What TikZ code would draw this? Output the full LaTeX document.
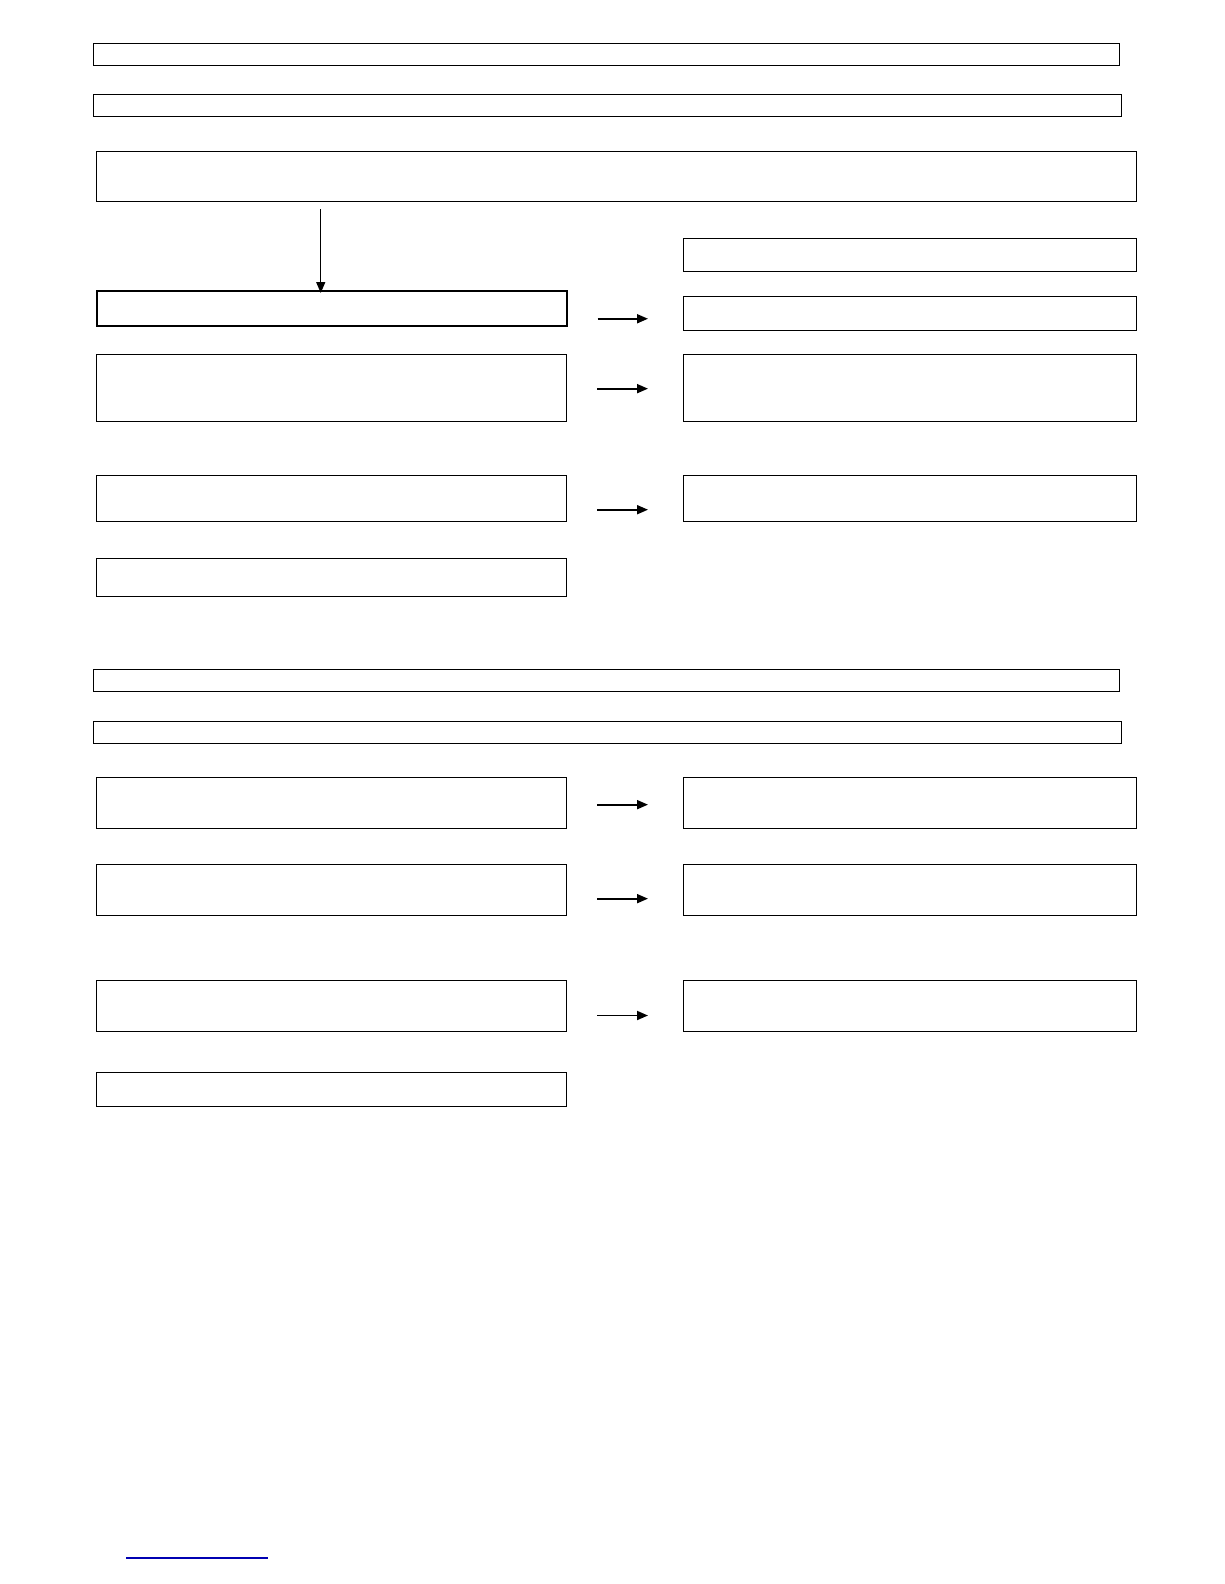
\documentclass[tikz,border=0pt]{standalone}
\usepackage{xcolor}
\usepackage{tikz}
\usetikzlibrary{shapes,arrows.meta,positioning,calc}

\begin{document}
\begin{tikzpicture}[
    x=1pt, y=-1pt,
    box/.style={rectangle, draw, anchor=north west, inner sep=0pt, line width=1pt},
    banner/.style={box, minimum height=22pt},
    leftbox/.style={box, minimum width=470pt},
    rightbox/.style={box, minimum width=453pt},
    tip/.style={-{Triangle[length=11pt,width=9pt]}},
    arrow/.style={tip, line width=1.8pt, shorten <=30pt, shorten >=35pt}
]
\useasboundingbox (0,0) rectangle (1224,1584);

% first part
\node[banner, minimum width=1026pt] (head1) at (93,43) {};
\node[banner, minimum width=1028pt] (head2) at (93,94) {};
\node[box, minimum width=1040pt, minimum height=50pt] (main) at (96,151) {};

\node[rightbox, minimum height=33pt] (r0) at (683,238) {};
\node[leftbox, minimum height=35pt, line width=1.5pt] (l1) at (96,290) {};
\node[rightbox, minimum height=34pt, line width=1.4pt] (r1) at (683,296) {};
\node[leftbox, minimum height=67pt, line width=1.3pt] (l2) at (96,354) {};
\node[rightbox, minimum height=67pt, line width=1.3pt] (r2) at (683,354) {};
\node[leftbox, minimum height=46pt, line width=1.4pt] (l3) at (96,475) {};
\node[rightbox, minimum height=46pt, line width=1.4pt] (r3) at (683,475) {};
\node[leftbox, minimum height=38pt, line width=1.3pt] (l4) at (96,558) {};

\draw[tip, line width=1.4pt]
    ($(main.south -| l1.north)+(-11,7)$) -- ($(l1.north)+(-11,3)$);

\draw[arrow] ($(l1.east)+(0,10.5)$) -- ($(l1.east -| r1.west)+(0,10.5)$);
\draw[arrow] ($(l2.east)+(0,0.5)$) -- ($(l2.east -| r2.west)+(0,0.5)$);
\draw[arrow] ($(l3.east)+(0,11)$) -- ($(l3.east -| r3.west)+(0,11)$);

% second part
\node[banner, minimum width=1026pt] (head3) at (93,669) {};
\node[banner, minimum width=1028pt] (head4) at (93,721) {};

\node[leftbox, minimum height=51pt, line width=1.3pt] (l5) at (96,777) {};
\node[rightbox, minimum height=51pt, line width=1.3pt] (r5) at (683,777) {};
\node[leftbox, minimum height=51pt, line width=1.3pt] (l6) at (96,864) {};
\node[rightbox, minimum height=51pt, line width=1.3pt] (r6) at (683,864) {};
\node[leftbox, minimum height=51pt] (l7) at (96,980) {};
\node[rightbox, minimum height=51pt] (r7) at (683,980) {};
\node[leftbox, minimum height=34pt] (l8) at (96,1072) {};

\draw[arrow] ($(l5.east)+(0,1.5)$) -- ($(l5.east -| r5.west)+(0,1.5)$);
\draw[arrow] ($(l6.east)+(0,8.5)$) -- ($(l6.east -| r6.west)+(0,8.5)$);
\draw[arrow] ($(l7.east)+(0,9.5)$) -- ($(l7.east -| r7.west)+(0,9.5)$);

% footnote rule
\draw[blue!70!black, line width=1.5pt] (126,1558) -- (268,1558);

\end{tikzpicture}
\end{document}
